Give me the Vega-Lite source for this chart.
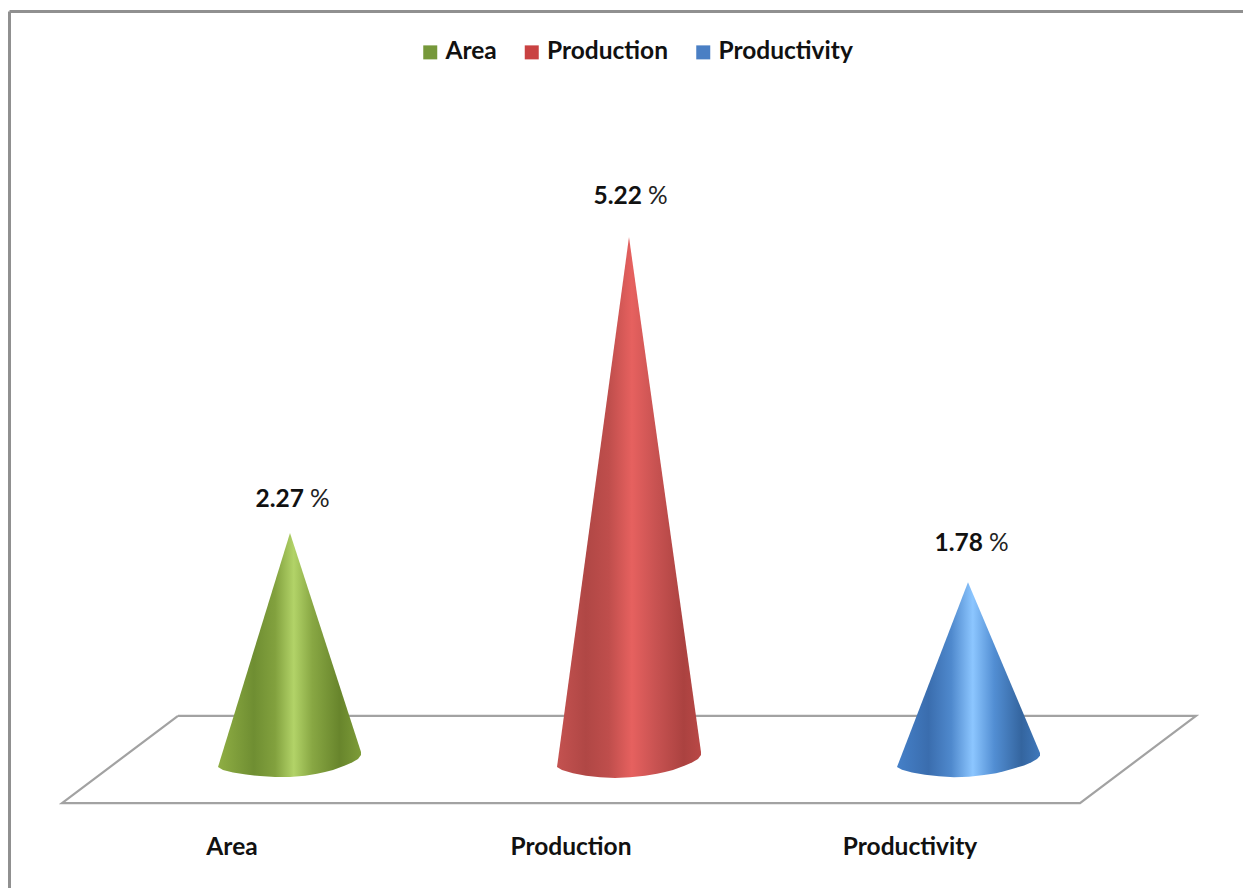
{
  "$schema": "https://vega.github.io/schema/vega-lite/v6.json",
  "width": 1234,
  "height": 877,
  "padding": {"left": 9, "top": 11, "right": 0, "bottom": 0},
  "autosize": {"type": "none"},
  "background": "white",
  "config": {"view": {"stroke": null}, "font": "Lato"},
  "datasets": {
    "outlines": [
      {"series": "Area", "seq": 1, "pos": 218, "pct": -0.063},
      {"series": "Area", "seq": 2, "pos": 290, "pct": 2.27},
      {"series": "Area", "seq": 3, "pos": 361, "pct": 0.087},
      {"series": "Area", "seq": 4, "pos": 361, "pct": 0.057},
      {"series": "Area", "seq": 5, "pos": 358, "pct": 0.017},
      {"series": "Area", "seq": 6, "pos": 352, "pct": -0.018},
      {"series": "Area", "seq": 7, "pos": 345, "pct": -0.048},
      {"series": "Area", "seq": 8, "pos": 333, "pct": -0.093},
      {"series": "Area", "seq": 9, "pos": 325, "pct": -0.113},
      {"series": "Area", "seq": 10, "pos": 317, "pct": -0.13},
      {"series": "Area", "seq": 11, "pos": 305, "pct": -0.149},
      {"series": "Area", "seq": 12, "pos": 290, "pct": -0.163},
      {"series": "Area", "seq": 13, "pos": 275, "pct": -0.163},
      {"series": "Area", "seq": 14, "pos": 260, "pct": -0.153},
      {"series": "Area", "seq": 15, "pos": 246, "pct": -0.138},
      {"series": "Area", "seq": 16, "pos": 233, "pct": -0.118},
      {"series": "Area", "seq": 17, "pos": 223, "pct": -0.093},
      {"series": "Production", "seq": 1, "pos": 557, "pct": -0.063},
      {"series": "Production", "seq": 2, "pos": 629, "pct": 5.22},
      {"series": "Production", "seq": 3, "pos": 701, "pct": 0.087},
      {"series": "Production", "seq": 4, "pos": 701, "pct": 0.057},
      {"series": "Production", "seq": 5, "pos": 698, "pct": 0.017},
      {"series": "Production", "seq": 6, "pos": 692, "pct": -0.018},
      {"series": "Production", "seq": 7, "pos": 685, "pct": -0.048},
      {"series": "Production", "seq": 8, "pos": 673, "pct": -0.093},
      {"series": "Production", "seq": 9, "pos": 665, "pct": -0.113},
      {"series": "Production", "seq": 10, "pos": 657, "pct": -0.13},
      {"series": "Production", "seq": 11, "pos": 645, "pct": -0.15},
      {"series": "Production", "seq": 12, "pos": 630, "pct": -0.165},
      {"series": "Production", "seq": 13, "pos": 615, "pct": -0.172},
      {"series": "Production", "seq": 14, "pos": 600, "pct": -0.165},
      {"series": "Production", "seq": 15, "pos": 586, "pct": -0.15},
      {"series": "Production", "seq": 16, "pos": 573, "pct": -0.125},
      {"series": "Production", "seq": 17, "pos": 562, "pct": -0.093},
      {"series": "Productivity", "seq": 1, "pos": 897, "pct": -0.063},
      {"series": "Productivity", "seq": 2, "pos": 968, "pct": 1.78},
      {"series": "Productivity", "seq": 3, "pos": 1040, "pct": 0.077},
      {"series": "Productivity", "seq": 4, "pos": 1040, "pct": 0.05},
      {"series": "Productivity", "seq": 5, "pos": 1037, "pct": 0.017},
      {"series": "Productivity", "seq": 6, "pos": 1031, "pct": -0.018},
      {"series": "Productivity", "seq": 7, "pos": 1024, "pct": -0.048},
      {"series": "Productivity", "seq": 8, "pos": 1012, "pct": -0.083},
      {"series": "Productivity", "seq": 9, "pos": 1004, "pct": -0.105},
      {"series": "Productivity", "seq": 10, "pos": 996, "pct": -0.125},
      {"series": "Productivity", "seq": 11, "pos": 984, "pct": -0.143},
      {"series": "Productivity", "seq": 12, "pos": 969, "pct": -0.16},
      {"series": "Productivity", "seq": 13, "pos": 954, "pct": -0.165},
      {"series": "Productivity", "seq": 14, "pos": 939, "pct": -0.155},
      {"series": "Productivity", "seq": 15, "pos": 925, "pct": -0.14},
      {"series": "Productivity", "seq": 16, "pos": 912, "pct": -0.118},
      {"series": "Productivity", "seq": 17, "pos": 902, "pct": -0.09}
    ],
    "floor": [
      {"seq": 1, "pos": 178, "pct": 0.446},
      {"seq": 2, "pos": 1196, "pct": 0.446},
      {"seq": 3, "pos": 1080, "pct": -0.422},
      {"seq": 4, "pos": 62, "pct": -0.422},
      {"seq": 5, "pos": 178, "pct": 0.446}
    ],
    "measures": [
      {"series": "Area", "pos": 290, "pct": 2.27},
      {"series": "Production", "pos": 629, "pct": 5.22},
      {"series": "Productivity", "pos": 968, "pct": 1.78}
    ],
    "categories": [
      {"series": "Area", "pos": 232, "pct": -0.94},
      {"series": "Production", "pos": 571, "pct": -0.94},
      {"series": "Productivity", "pos": 910, "pct": -0.94}
    ]
  },
  "data": {"name": "outlines"},
  "encoding": {
    "x": {
      "field": "pos",
      "type": "quantitative",
      "scale": {"domain": [9, 1243], "nice": false, "zero": false},
      "axis": {"orient": "top", "title": null, "grid": false, "ticks": false, "labels": false, "domain": true, "domainColor": "#909090", "domainWidth": 3}
    },
    "y": {
      "field": "pct",
      "type": "quantitative",
      "scale": {"domain": [-1.269, 7.474], "nice": false, "zero": false},
      "axis": {"orient": "left", "title": null, "grid": false, "ticks": false, "labels": false, "domain": true, "domainColor": "#909090", "domainWidth": 3}
    }
  },
  "layer": [
    {
      "data": {"name": "floor"},
      "mark": {"type": "line", "stroke": "#a2a2a2", "strokeWidth": 2.2, "strokeJoin": "miter"},
      "encoding": {"order": {"field": "seq", "type": "quantitative"}}
    },
    {
      "transform": [{"filter": "datum.series === 'Area'"}],
      "mark": {
        "type": "line",
        "strokeWidth": 0,
        "fill": {
          "x1": 0, "y1": 0, "x2": 1, "y2": 0,
          "gradient": "linear",
          "stops": [
            {"offset": 0, "color": "#8fae44"},
            {"offset": 0.25, "color": "#6f8e32"},
            {"offset": 0.4, "color": "#82a13e"},
            {"offset": 0.53, "color": "#b2d368"},
            {"offset": 0.66, "color": "#88a743"},
            {"offset": 0.85, "color": "#68852c"},
            {"offset": 1, "color": "#7d9c38"}
          ]
        }
      },
      "encoding": {"order": {"field": "seq", "type": "quantitative"}}
    },
    {
      "transform": [{"filter": "datum.series === 'Production'"}],
      "mark": {
        "type": "line",
        "strokeWidth": 0,
        "fill": {
          "x1": 0, "y1": 0, "x2": 1, "y2": 0,
          "gradient": "linear",
          "stops": [
            {"offset": 0, "color": "#c45250"},
            {"offset": 0.2, "color": "#b04745"},
            {"offset": 0.36, "color": "#bf4e4c"},
            {"offset": 0.52, "color": "#e6615f"},
            {"offset": 0.68, "color": "#c95352"},
            {"offset": 0.88, "color": "#ab4240"},
            {"offset": 1, "color": "#b94846"}
          ]
        }
      },
      "encoding": {"order": {"field": "seq", "type": "quantitative"}}
    },
    {
      "transform": [{"filter": "datum.series === 'Productivity'"}],
      "mark": {
        "type": "line",
        "strokeWidth": 0,
        "fill": {
          "x1": 0, "y1": 0, "x2": 1, "y2": 0,
          "gradient": "linear",
          "stops": [
            {"offset": 0, "color": "#4580c8"},
            {"offset": 0.22, "color": "#3a6dae"},
            {"offset": 0.38, "color": "#4f89cd"},
            {"offset": 0.53, "color": "#8cc6ff"},
            {"offset": 0.68, "color": "#528ed3"},
            {"offset": 0.87, "color": "#34659f"},
            {"offset": 1, "color": "#3f78bb"}
          ]
        }
      },
      "encoding": {"order": {"field": "seq", "type": "quantitative"}}
    },
    {
      "data": {"name": "measures"},
      "mark": {"type": "point", "shape": "square", "size": 0, "filled": true, "opacity": 1},
      "encoding": {
        "color": {
          "field": "series",
          "type": "nominal",
          "scale": {"domain": ["Area", "Production", "Productivity"], "range": ["#76983a", "#c94242", "#4a7fc4"]},
          "legend": {
            "title": null,
            "orient": "none",
            "legendX": 409,
            "legendY": 29,
            "direction": "horizontal",
            "columns": 3,
            "symbolType": "square",
            "symbolSize": 196,
            "symbolStrokeWidth": 0,
            "symbolOpacity": 1,
            "labelFont": "Lato",
            "labelFontSize": 24.5,
            "labelFontWeight": "bold",
            "labelColor": "#111111",
            "labelOffset": 3,
            "columnPadding": 22.5,
            "labelLimit": 200
          }
        }
      }
    },
    {
      "data": {"name": "measures"},
      "transform": [{"filter": "datum.series === 'Area'"}],
      "layer": [
        {
          "mark": {"type": "text", "align": "right", "baseline": "alphabetic", "dx": 14, "dy": -26, "fontSize": 24.5, "fontWeight": "bold", "color": "#111111"},
          "encoding": {"text": {"field": "pct", "type": "quantitative", "format": ".2f"}}
        },
        {
          "mark": {"type": "text", "align": "left", "baseline": "alphabetic", "dx": 20, "dy": -26, "fontSize": 24.5, "color": "#222222", "text": "%"}
        }
      ]
    },
    {
      "data": {"name": "measures"},
      "transform": [{"filter": "datum.series === 'Production'"}],
      "layer": [
        {
          "mark": {"type": "text", "align": "right", "baseline": "alphabetic", "dx": 13, "dy": -33, "fontSize": 24.5, "fontWeight": "bold", "color": "#111111"},
          "encoding": {"text": {"field": "pct", "type": "quantitative", "format": ".2f"}}
        },
        {
          "mark": {"type": "text", "align": "left", "baseline": "alphabetic", "dx": 19, "dy": -33, "fontSize": 24.5, "color": "#222222", "text": "%"}
        }
      ]
    },
    {
      "data": {"name": "measures"},
      "transform": [{"filter": "datum.series === 'Productivity'"}],
      "layer": [
        {
          "mark": {"type": "text", "align": "right", "baseline": "alphabetic", "dx": 15, "dy": -31, "fontSize": 24.5, "fontWeight": "bold", "color": "#111111"},
          "encoding": {"text": {"field": "pct", "type": "quantitative", "format": ".2f"}}
        },
        {
          "mark": {"type": "text", "align": "left", "baseline": "alphabetic", "dx": 21, "dy": -31, "fontSize": 24.5, "color": "#222222", "text": "%"}
        }
      ]
    },
    {
      "data": {"name": "categories"},
      "mark": {"type": "text", "align": "center", "baseline": "alphabetic", "fontSize": 24.5, "fontWeight": "bold", "color": "#111111"},
      "encoding": {
        "text": {"field": "series", "type": "nominal"}
      }
    }
  ]
}
